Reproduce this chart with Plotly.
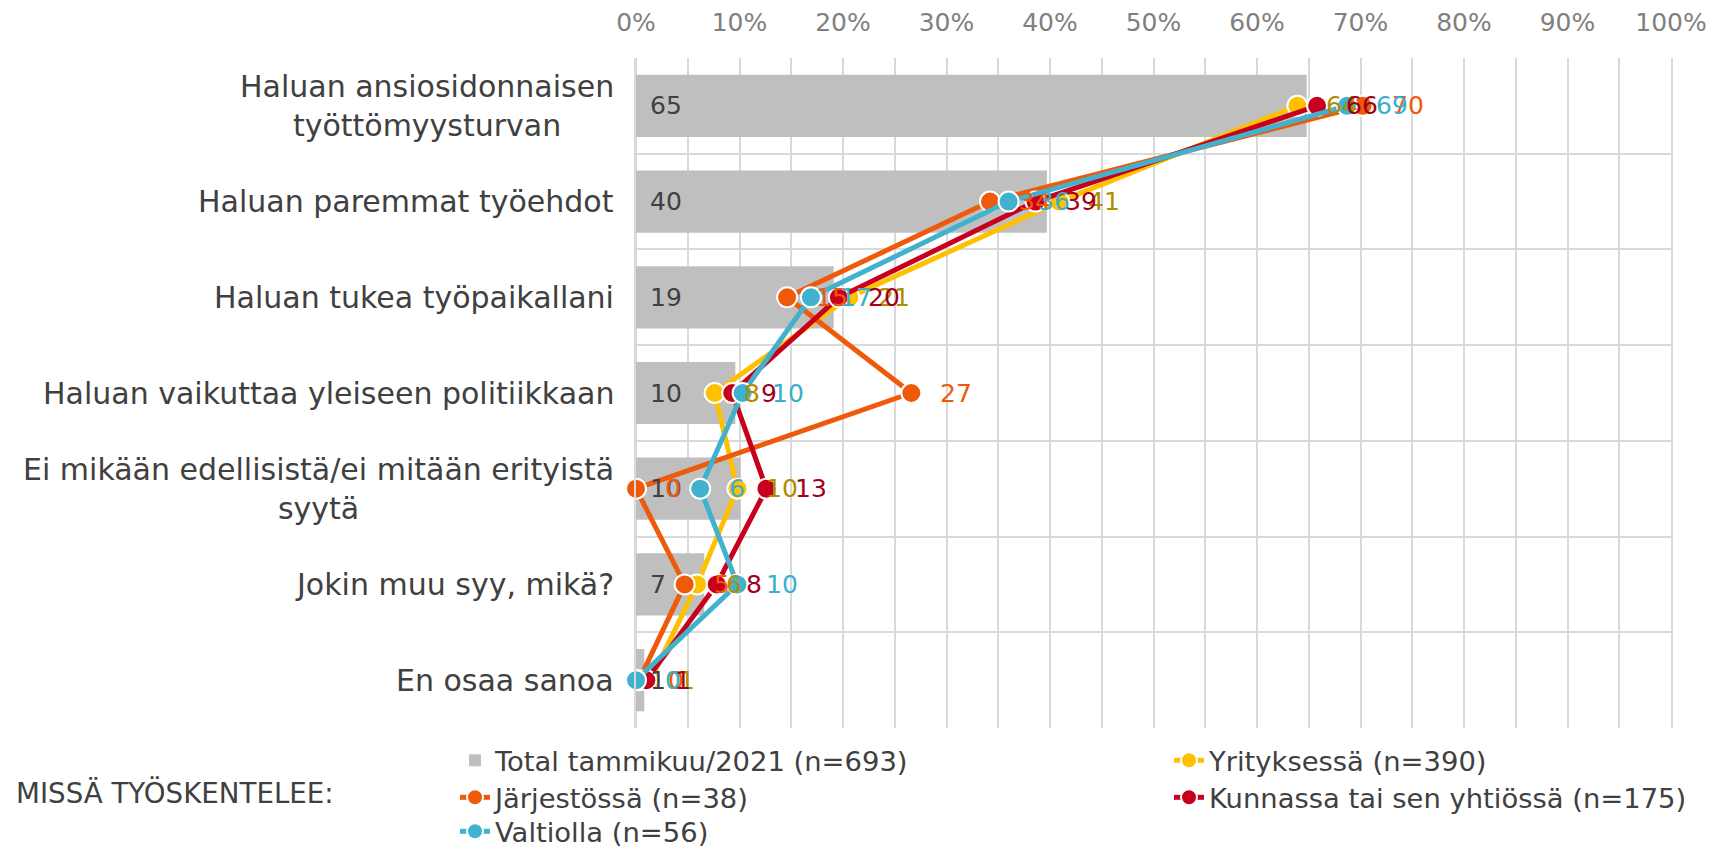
import plotly.graph_objects as go

# ---------------- data ----------------
categories = [
    "Haluan ansiosidonnaisen työttömyysturvan",
    "Haluan paremmat työehdot",
    "Haluan tukea työpaikallani",
    "Haluan vaikuttaa yleiseen politiikkaan",
    "Ei mikään edellisistä/ei mitään erityistä syytä",
    "Jokin muu syy, mikä?",
    "En osaa sanoa",
]
category_labels = [
    "Haluan ansiosidonnaisen<br>työttömyysturvan",
    "Haluan paremmat työehdot",
    "Haluan tukea työpaikallani",
    "Haluan vaikuttaa yleiseen politiikkaan",
    "Ei mikään edellisistä/ei mitään erityistä<br>syytä",
    "Jokin muu syy, mikä?",
    "En osaa sanoa",
]
total = [64.8, 39.7, 19.1, 9.6, 10.1, 6.6, 0.8]
yritys = [63.9, 40.9, 20.6, 7.6, 9.8, 5.9, 1.4]
jarjesto = [70.2, 34.2, 14.6, 26.6, 0.0, 4.7, 0.3]
kunnassa = [65.8, 38.6, 19.6, 9.3, 12.6, 7.8, 1.0]
valtiolla = [68.7, 36.0, 16.9, 10.3, 6.2, 9.8, 0.0]

x_tickvals = [0, 10, 20, 30, 40, 50, 60, 70, 80, 90, 100]
x_ticktext = ["0%", "10%", "20%", "30%", "40%", "50%", "60%", "70%", "80%", "90%", "100%"]

name_total = "Total tammikuu/2021 (n=693)"
name_yritys = "Yrityksessä (n=390)"
name_jarjesto = "Järjestössä (n=38)"
name_kunnassa = "Kunnassa tai sen yhtiössä (n=175)"
name_valtiolla = "Valtiolla (n=56)"
legend_title = "MISSÄ TYÖSKENTELEE:"

FONT = "DejaVu Sans"
TXT = "#404040"
GRID = "#D9D9D9"

W, H = 1711, 847
L, R, T, B = 636, 40, 58, 119
PW, PH = W - L - R, H - T - B

series = [
    (name_yritys, yritys, "#FFC000", "#B08D00", "legend2"),
    (name_jarjesto, jarjesto, "#EE5A0A", "#EE5A0A", "legend3"),
    (name_kunnassa, kunnassa, "#C8001E", "#A0001C", "legend4"),
    (name_valtiolla, valtiolla, "#40B2CE", "#3AAFCB", "legend5"),
]

fig = go.Figure()
fig.add_trace(go.Bar(
    x=total, y=categories, orientation="h", width=0.65,
    marker=dict(color="#BFBFBF", line=dict(width=0)),
    name=name_total, legend="legend", hoverinfo="x+y",
))
for name, vals, col, lab, leg in series:
    fig.add_trace(go.Scatter(
        x=vals, y=categories, mode="lines+markers", name=name, legend=leg,
        line=dict(color=col, width=5),
        marker=dict(size=20, color=col, line=dict(color="white", width=2)),
        cliponaxis=False,
    ))

ann = []
# bar labels
for c, v in zip(categories, total):
    ann.append(dict(x=0, y=c, xref="x", yref="y", text=f"{round(v)}", showarrow=False,
                    xanchor="left", xshift=12, font=dict(family=FONT, size=25, color=TXT)))
# line labels
for name, vals, col, lab, leg in series:
    for c, v in zip(categories, vals):
        ann.append(dict(x=v, y=c, xref="x", yref="y", text=f"{round(v)}", showarrow=False,
                        xanchor="left", xshift=27, font=dict(family=FONT, size=25, color=lab)))
# category labels
for c, lbl in zip(categories, category_labels):
    ann.append(dict(x=0, y=c, xref="paper", yref="y", text=lbl, showarrow=False,
                    xanchor="right", xshift=-20, align="center",
                    font=dict(family=FONT, size=30, color=TXT)))
ann.append(dict(x=(14 - L) / PW, y=(H - B - 793) / PH, xref="paper", yref="paper", text=legend_title,
                showarrow=False, xanchor="left", yanchor="middle",
                font=dict(family=FONT, size=27.7, color=TXT)))

legend_pos = {
    "legend": (455, 736),
    "legend2": (1169, 736),
    "legend3": (455, 773),
    "legend4": (1169, 773),
    "legend5": (455, 807),
}
legend_layouts = {}
for key, (lx, ly) in legend_pos.items():
    legend_layouts[key] = dict(
        xref="container", yref="container", x=lx / W, y=1 - ly / H,
        xanchor="left", yanchor="top", orientation="v", bgcolor="rgba(0,0,0,0)",
        font=dict(family=FONT, size=27.4, color=TXT), tracegroupgap=0,
    )

fig.update_layout(
    width=W, height=H,
    margin=dict(l=L, r=R, t=T, b=B, autoexpand=False),
    paper_bgcolor="white", plot_bgcolor="white",
    font=dict(family=FONT, color=TXT),
    barmode="overlay",
    annotations=ann,
    xaxis=dict(
        side="top", range=[0, 100], tickvals=x_tickvals, ticktext=x_ticktext,
        tickfont=dict(family=FONT, size=25, color="#808080"),
        showgrid=True, gridcolor=GRID, gridwidth=1.5,
        minor=dict(dtick=5, showgrid=True, gridcolor=GRID, gridwidth=1.5),
        zeroline=True, zerolinecolor=GRID, zerolinewidth=1.5,
        ticks="", ticklabelstandoff=21, fixedrange=True,
    ),
    yaxis=dict(
        autorange="reversed", tickson="boundaries", showticklabels=False,
        showgrid=True, gridcolor=GRID, gridwidth=1.5, ticks="", fixedrange=True,
        showline=True, linecolor=GRID, linewidth=1.5, mirror=True,
    ),
    showlegend=True,
    **legend_layouts,
)

fig.write_html("out.html", config={"displayModeBar": False},
               post_script="document.body.style.margin='0';document.body.style.overflow='hidden';")
